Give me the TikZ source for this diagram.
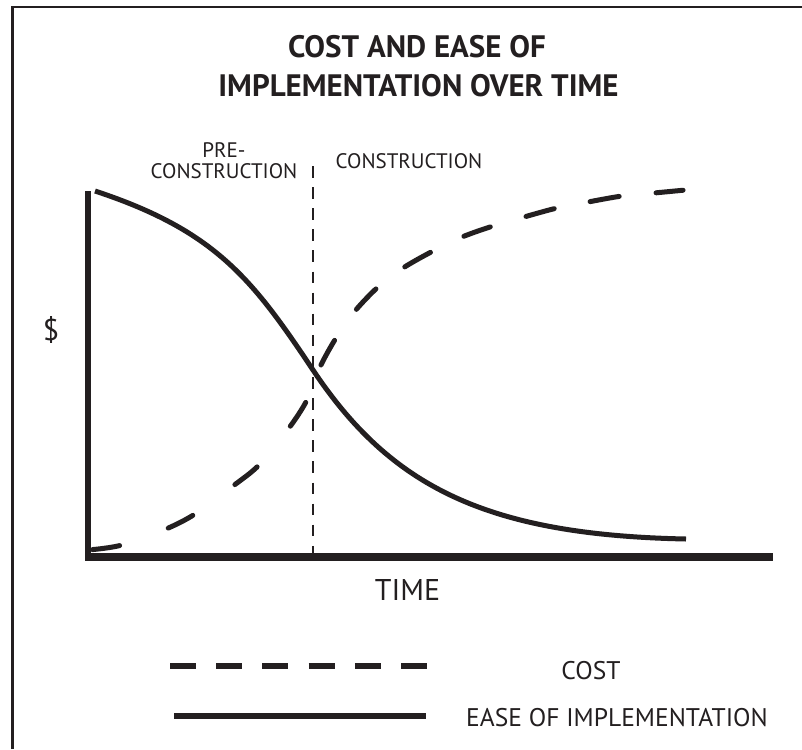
\documentclass[tikz,border=0pt]{standalone}
\usepackage{fontspec}
\setmainfont{PT Sans}
\definecolor{ink}{HTML}{231F20}
\begin{document}
\begin{tikzpicture}[x=1pt,y=-1pt,
  frame/.style={draw=ink,line width=2.2pt},
  axis/.style={draw=ink,line cap=butt},
  easeline/.style={draw=ink,line width=5pt,line cap=butt},
  costline/.style={draw=ink,line width=5pt,line cap=round},
  divider/.style={draw=ink,line width=1.6pt,dash pattern=on 11.5pt off 9.6pt},
  titletext/.style={inner sep=0pt,anchor=base,text=ink,font=\fontsize{31}{31}\selectfont\bfseries},
  phasetext/.style={inner sep=0pt,anchor=base,text=ink,font=\fontsize{21}{21}\selectfont},
  axistext/.style={inner sep=0pt,anchor=base,text=ink,font=\fontsize{30}{30}\selectfont},
  legendtext/.style={inner sep=0pt,anchor=base,text=ink,font=\fontsize{25.5}{25.5}\selectfont}]
\useasboundingbox (0,0) rectangle (802,749);
\fill[white] (0,0) rectangle (802,749);
% frame
\coordinate (fbl) at (12.5,749);
\coordinate (ftl) at (12.5,7);
\coordinate (ftr) at (802,7);
\draw[frame] (fbl) -- (ftl) -- (ftr);
% title
\node[titletext] (t1) at (417,58) {COST AND EASE OF};
\node[titletext] (t2) at (418.5,96) {IMPLEMENTATION OVER TIME};
% phase labels
\node[phasetext] (pre) at (224,157) {PRE-};
\node[phasetext] (precon) at (224,178) {CONSTRUCTION};
\node[phasetext] (con) at (409,168) {CONSTRUCTION};
% axes
\coordinate (ytop) at (88,191);
\coordinate (ybot) at (88,561);
\coordinate (xleft) at (85,557);
\coordinate (xend) at (773,557);
\draw[axis,line width=6pt] (ytop) -- (ybot);
\draw[axis,line width=8pt] (xleft) -- (xend);
\node[axistext] (dollar) at (51,340) {\$};
\node[axistext] (time) at (407.5,600) {TIME};
% divider
\coordinate (dtop) at (313,166);
\coordinate (dbot) at (313,553);
\draw[divider] (dtop) -- (dbot);
% ease of implementation curve
\coordinate (e0) at (95,191);
\coordinate (ex) at (313,370);
\coordinate (e1) at (686,539);
\draw[easeline] (e0) .. controls (215,230.6) and (252,278.5) .. (ex)
                     .. controls (390.7,486.5) and (486,535) .. (e1);
% cost curve
\draw[costline,dash pattern=on 27.4pt off 51.8pt on 27.6pt off 52.2pt on 28.4pt off 52.6pt on 28.3pt off 40.5pt on 28.1pt off 38pt on 28.2pt off 36.4pt on 29.5pt off 37.2pt on 27.9pt off 37.3pt on 29.2pt off 36.6pt on 29.5pt off 37.1pt on 27.1pt off 500pt]
  plot[smooth,tension=0.5] coordinates {(92.5,549.6) (122,545) (166,529) (195,514) (233,486) (259,465) (289,428) (307,400) (320,367) (336,338) (355,311) (378,287) (403,268) (433,251) (462,237) (493,226) (524,217) (557,208) (588,202) (622,196) (654,193) (683.5,190.2)};
% legend
\coordinate (lc1) at (170,666);
\coordinate (lc2) at (427,666);
\coordinate (le1) at (174,716);
\coordinate (le2) at (426,716);
\draw[draw=ink,line width=6pt,line cap=butt,dash pattern=on 26pt off 20.2pt] (lc1) -- (lc2);
\draw[draw=ink,line width=6.5pt,line cap=butt] (le1) -- (le2);
\node[legendtext] (costlab) at (591,679) {COST};
\node[legendtext] (easelab) at (617,726) {EASE OF IMPLEMENTATION};
\end{tikzpicture}
\end{document}
